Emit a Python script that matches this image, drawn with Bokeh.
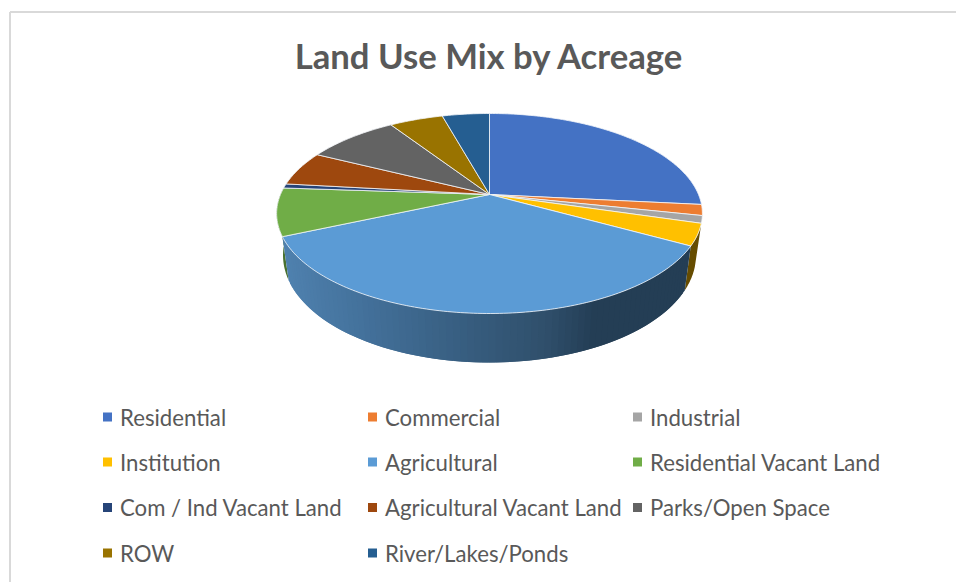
import numpy as np
from bokeh.plotting import figure
from bokeh.models import Range1d
from bokeh.core.properties import value
from bokeh.embed import file_html
from bokeh.resources import INLINE

# ---------- data ----------
TITLE = "Land Use Mix by Acreage"
categories = ["Residential", "Commercial", "Industrial", "Institution", "Agricultural",
              "Residential Vacant Land", "Com / Ind Vacant Land", "Agricultural Vacant Land",
              "Parks/Open Space", "ROW", "River/Lakes/Ponds"]
shares = [26.6, 1.75, 1.2, 3.5, 35.3, 7.7, 0.7, 5.6, 8.4, 4.9, 4.3]
colors = ["#4472C4", "#ED7D31", "#A5A5A5", "#FFC000", "#5B9BD5", "#70AD47",
          "#264478", "#9E480E", "#636363", "#997300", "#255E91"]

# ---------- layout (page pixels) ----------
W, H = 956, 582
CX, CY = 489.0, 194.0      # apex of the pie
RX, RY, K = 209.0, 96.4, 0.19   # perspective of the top disc
SHRINK = 0.97              # the lower rim is a little narrower
GREY = "#595959"
LEG_X = [107.0, 372.0, 637.0]
LEG_Y = [416.5, 461.5, 507.0, 552.5]

p = figure(width=W, height=H, output_backend="svg", toolbar_location=None,
           x_range=Range1d(0, W), y_range=Range1d(H, 0),
           min_border=0, outline_line_color=None, background_fill_color="white",
           border_fill_color="white")
p.axis.visible = False
p.grid.visible = False


def top(t):
    u, v = np.sin(t), np.cos(t)
    d = 1 + K * v
    return CX + RX * u / d, CY - RY * v / d


def bottom(t):
    x, y = top(t)
    v = np.cos(t)
    return CX + (x - CX) * SHRINK, y + 40 - 9 * v


def wall_color(x):
    xs = [284, 360, 450, 540, 590, 700]
    rgb = np.array([[0x50, 0x82, 0xB0], [0x44, 0x72, 0x9C], [0x39, 0x60, 0x83],
                    [0x30, 0x50, 0x6C], [0x24, 0x3E, 0x55], [0x24, 0x3E, 0x55]])
    c = [int(np.interp(x, xs, rgb[:, i])) for i in range(3)]
    return "#%02x%02x%02x" % tuple(c)


def darken(hex_color, f):
    c = [int(int(hex_color[i:i + 2], 16) * f) for i in (1, 3, 5)]
    return "#%02x%02x%02x" % tuple(c)


edges = np.cumsum([0.0] + shares) / sum(shares) * 2 * np.pi

# side wall, painted first; the disc covers what lies behind it
for i, f in ((3, 0.4), (5, 0.65)):
    t = np.linspace(edges[i], edges[i + 1], 24)
    xt, yt = top(t)
    xb, yb = bottom(t)
    p.patch(np.r_[xt, xb[::-1]], np.r_[yt, yb[::-1]], fill_color=darken(colors[i], f),
            line_color=None)

t = np.linspace(edges[4], edges[5], 80)
qx, qy, qc = [], [], []
for a, b, b2 in zip(t[:-2], t[1:-1], t[2:]):
    xa, ya = top(a)
    xb, yb = top(b2)
    xc, yc = bottom(b2)
    xd, yd = bottom(a)
    qx.append([xa, xb, xc, xd])
    qy.append([ya, yb, yc, yd])
    qc.append(wall_color((xc + xd) / 2))
p.patches(qx, qy, fill_color=qc, line_color=None)

# top face
for i, c in enumerate(colors):
    t = np.linspace(edges[i], edges[i + 1], max(6, int((edges[i + 1] - edges[i]) * 60)))
    xt, yt = top(t)
    p.patch(np.r_[CX, xt], np.r_[CY, yt], fill_color=c, line_color="#f4f6fa",
            line_width=1, line_alpha=0.8, line_join="round")

# frame of the chart area
p.segment(x0=[9.5, 9.5], y0=[11.5, 11.5], x1=[9.5, W], y1=[H, 11.5],
          line_color="#d9d9d9", line_width=2)

# title
p.text(x=[CX], y=[55], text=[TITLE], text_font=value("Lato"), text_font_style="bold",
       text_font_size="34.7px", text_color=GREY, text_align="center", text_baseline="middle")

# legend
lx = [LEG_X[n % 3] for n in range(len(categories))]
ly = [LEG_Y[n // 3] for n in range(len(categories))]
p.scatter(lx, ly, marker="square", size=9, fill_color=colors, line_color=None)
p.text(x=[v + 12.5 for v in lx], y=ly, text=categories, text_font=value("Lato"),
       text_font_size="22.2px", text_color=GREY, text_align="left", text_baseline="middle")

open("out.html", "w").write(file_html(p, INLINE))
